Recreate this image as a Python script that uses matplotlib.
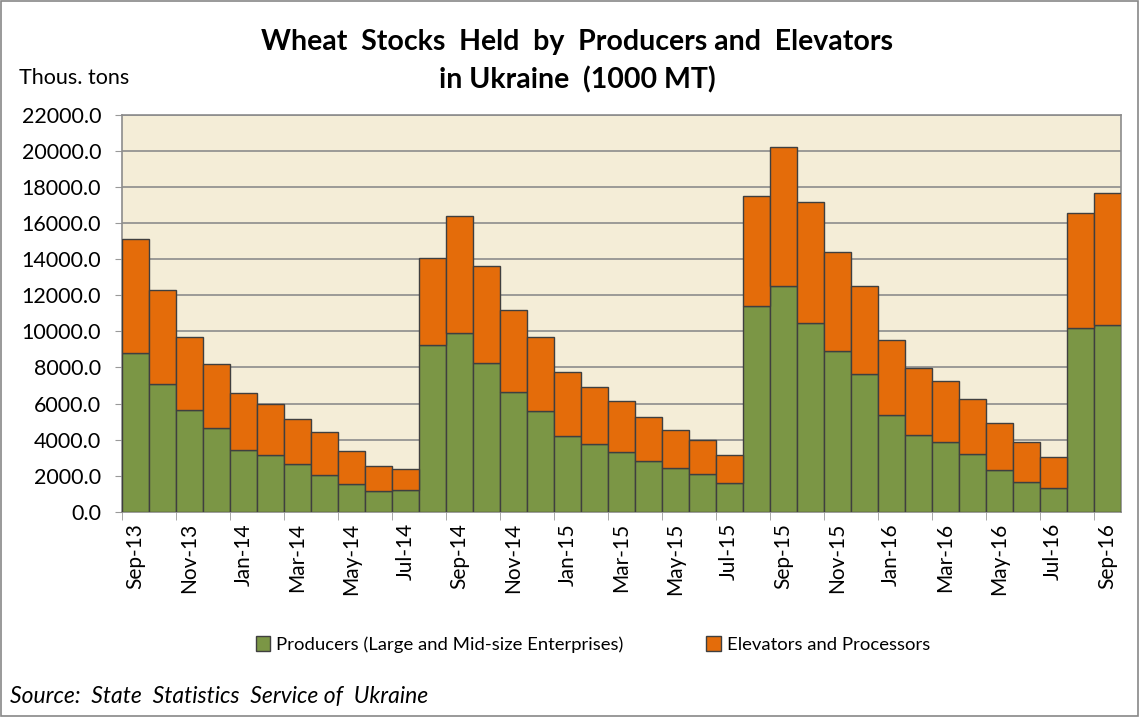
import numpy as np
import matplotlib
matplotlib.use("Agg")
import matplotlib.pyplot as plt
from matplotlib.patches import Rectangle

plt.rcParams['font.family'] = ['Lato', 'DejaVu Sans']

# monthly stocks, thous. tons
months = ['Sep-13', 'Oct-13', 'Nov-13', 'Dec-13', 'Jan-14', 'Feb-14', 'Mar-14', 'Apr-14',
          'May-14', 'Jun-14', 'Jul-14', 'Aug-14', 'Sep-14', 'Oct-14', 'Nov-14', 'Dec-14',
          'Jan-15', 'Feb-15', 'Mar-15', 'Apr-15', 'May-15', 'Jun-15', 'Jul-15', 'Aug-15',
          'Sep-15', 'Oct-15', 'Nov-15', 'Dec-15', 'Jan-16', 'Feb-16', 'Mar-16', 'Apr-16',
          'May-16', 'Jun-16', 'Jul-16', 'Aug-16', 'Sep-16']
producers = [8810, 7110, 5630, 4670, 3450, 3140, 2660, 2070, 1550, 1180, 1240, 9230, 9920,
             8240, 6650, 5600, 4210, 3770, 3310, 2840, 2460, 2090, 1610, 11410, 12500,
             10470, 8920, 7650, 5370, 4270, 3900, 3210, 2310, 1660, 1350, 10190, 10360]
totals = [15110, 12280, 9700, 8220, 6570, 5980, 5150, 4410, 3400, 2550, 2360, 14090, 16380,
          13630, 11190, 9700, 7760, 6910, 6150, 5260, 4560, 3990, 3140, 17490, 20220,
          17160, 14420, 12500, 9550, 7960, 7260, 6260, 4930, 3880, 3030, 16580, 17640]
elevators = [t - p for t, p in zip(totals, producers)]

green = '#7B9645'
orange = '#E46C0A'

fig = plt.figure(figsize=(11.4, 7.17), dpi=100)
ax = fig.add_axes([0.107, 0.286, 0.876, 0.554])
ax.set_facecolor('#F4EDD7')

x = np.arange(len(months))
ax.bar(x, producers, width=1.0, color=green, edgecolor='#3f3f3f', linewidth=1.0,
       label='Producers (Large and Mid-size Enterprises)', zorder=3)
ax.bar(x, elevators, bottom=producers, width=1.0, color=orange, edgecolor='#3f3f3f',
       linewidth=1.0, label='Elevators and Processors', zorder=3)

ax.set_xlim(-0.5, len(months) - 0.5)
ax.set_ylim(0, 22000)
ax.set_yticks(np.arange(0, 22001, 2000))
ax.set_yticklabels([f'{v:.1f}' for v in np.arange(0, 22001, 2000)], fontsize=15.5)
ax.yaxis.grid(True, color='#8c8c8c', linewidth=1.2, zorder=0)
ax.set_axisbelow(True)

ax.set_xticks(x[::2])
ax.set_xticklabels(months[::2], rotation=90, fontsize=15)
ax.set_xticks(np.arange(-0.5, len(months), 2), minor=True)
ax.tick_params(axis='x', which='major', length=0, pad=8)
ax.tick_params(axis='x', which='minor', length=6, color='#999999', direction='out')
ax.tick_params(axis='y', length=5, color='#999999', pad=10)

for s in ax.spines.values():
    s.set_color('#8c8c8c')
    s.set_linewidth(1.2)

fig.text(0.506, 0.942, 'Wheat  Stocks  Held  by  Producers and  Elevators',
         ha='center', va='center', fontsize=20.5, fontweight='bold')
fig.text(0.506, 0.889, 'in Ukraine  (1000 MT)', ha='center', va='center',
         fontsize=20.5, fontweight='bold')
fig.text(0.017, 0.891, 'Thous. tons', ha='left', va='center', fontsize=15.5)
fig.text(0.009, 0.028, 'Source:  State  Statistics  Service of  Ukraine', ha='left',
         va='center', fontsize=16.5, style='italic')

fig.legend(loc='center', bbox_to_anchor=(0.52, 0.101), ncol=2, frameon=False,
           fontsize=13.3, handlelength=0.8, handleheight=0.8, handletextpad=0.3,
           columnspacing=4.5)

fig.patches.append(Rectangle((0.001, 0.002), 0.997, 0.996, transform=fig.transFigure,
                             fill=False, edgecolor='#888888', linewidth=1.2))

fig.savefig('out.png', dpi=100)
